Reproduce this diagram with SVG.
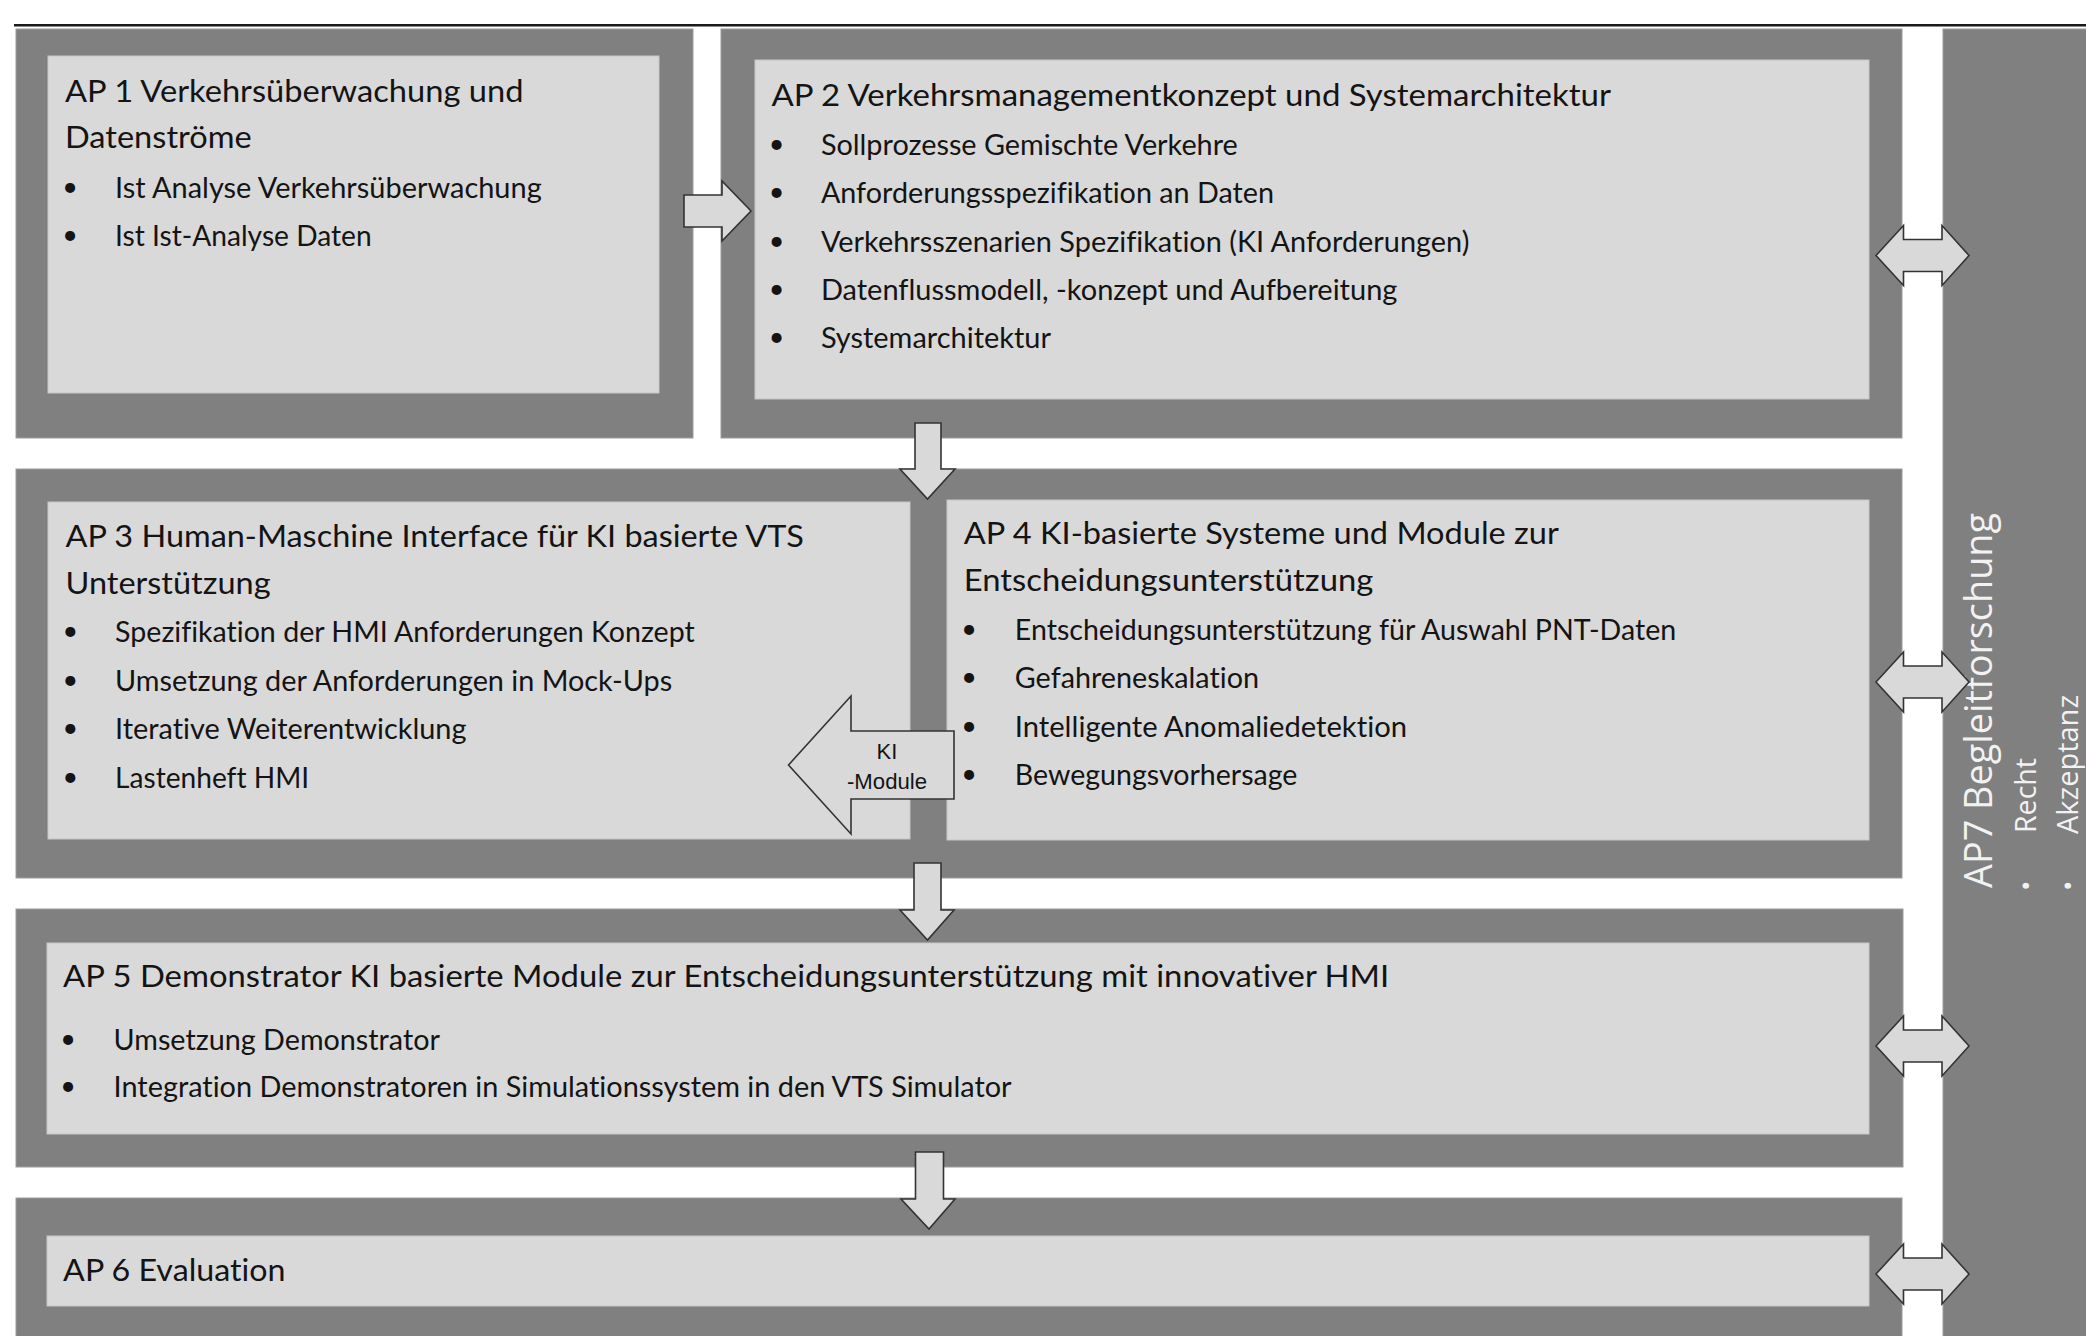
<svg xmlns="http://www.w3.org/2000/svg" xmlns:xlink="http://www.w3.org/1999/xlink" width="2086" height="1336" viewBox="0 0 2086 1336">
<defs>
<style>
.outer{fill:#808080;stroke:#9c9c9c;stroke-width:1}
.inner{fill:#d9d9d9;stroke:#c6c6c6;stroke-width:1}
.arrow{fill:#d9d9d9;stroke:#333333;stroke-width:1.6;stroke-linejoin:miter}
.t{font-family:Lato,"Open Sans",sans-serif;fill:#141414;font-variant-ligatures:none}
.title{font-size:31.5px}
.item{font-size:28px}
.dot{font-family:Lato,"Open Sans",sans-serif;fill:#141414;font-size:27px;text-anchor:middle}
.lbl{font-family:"Liberation Sans",Arial,sans-serif;font-size:22px;fill:#141414;text-anchor:middle}
.w{font-family:"Open Sans","Noto Sans",sans-serif;fill:#f2f2f2}
</style>
<path id="dbl" class="arrow" d="M1876,0 L1903.5,-30 L1903.5,-16 L1942,-16 L1942,-30 L1969,0 L1942,30 L1942,16 L1903.5,16 L1903.5,30 Z"/>
</defs>
<rect x="0" y="0" width="2086" height="1336" fill="#ffffff"/>
<line x1="14" y1="25.3" x2="2086" y2="25.3" stroke="#1a1a1a" stroke-width="2.5"/>

<g id="ap7">
<rect class="outer" x="1943" y="29" width="150" height="1320"/>
<text class="w" x="1992" y="888" font-size="38" textLength="375" lengthAdjust="spacingAndGlyphs" transform="rotate(-90 1992 888)">AP7 Begleitforschung</text>
<text class="w" x="2036" y="891" font-size="28" transform="rotate(-90 2036 891)">•</text>
<text class="w" x="2036" y="833" font-size="28.5" textLength="75" lengthAdjust="spacingAndGlyphs" transform="rotate(-90 2036 833)">Recht</text>
<text class="w" x="2078" y="891" font-size="28" transform="rotate(-90 2078 891)">•</text>
<text class="w" x="2078" y="834" font-size="28.5" textLength="139" lengthAdjust="spacingAndGlyphs" transform="rotate(-90 2078 834)">Akzeptanz</text>
</g>

<g id="ap1">
<rect class="outer" x="16" y="29" width="677" height="409"/>
<rect class="inner" x="48" y="56" width="611" height="337"/>
<text class="t title" x="65" y="101.7" textLength="458.5" lengthAdjust="spacingAndGlyphs">AP 1 Verkehrsüberwachung und</text>
<text class="t title" x="65" y="147.5" textLength="186.7" lengthAdjust="spacingAndGlyphs">Datenströme</text>
<text class="dot" x="70" y="195.5">•</text>
<text class="t item" x="115" y="197.5" textLength="426.7" lengthAdjust="spacingAndGlyphs">Ist Analyse Verkehrsüberwachung</text>
<text class="dot" x="70" y="243.5">•</text>
<text class="t item" x="115" y="245.5" textLength="256.7" lengthAdjust="spacingAndGlyphs">Ist Ist-Analyse Daten</text>
</g>

<g id="ap2">
<rect class="outer" x="721" y="29" width="1181" height="409"/>
<rect class="inner" x="755" y="60" width="1114" height="339"/>
<text class="t title" x="771.4" y="106" textLength="839.6" lengthAdjust="spacingAndGlyphs">AP 2 Verkehrsmanagementkonzept und Systemarchitektur</text>
<text class="dot" x="776.5" y="153">•</text>
<text class="t item" x="820.9" y="155" textLength="416.9" lengthAdjust="spacingAndGlyphs">Sollprozesse Gemischte Verkehre</text>
<text class="dot" x="776.5" y="201.3">•</text>
<text class="t item" x="820.9" y="203.3" textLength="453.1" lengthAdjust="spacingAndGlyphs">Anforderungsspezifikation an Daten</text>
<text class="dot" x="776.5" y="249.7">•</text>
<text class="t item" x="820.9" y="251.7" textLength="648.5" lengthAdjust="spacingAndGlyphs">Verkehrsszenarien Spezifikation (KI Anforderungen)</text>
<text class="dot" x="776.5" y="298">•</text>
<text class="t item" x="820.9" y="300" textLength="576.5" lengthAdjust="spacingAndGlyphs">Datenflussmodell, -konzept und Aufbereitung</text>
<text class="dot" x="776.5" y="346.3">•</text>
<text class="t item" x="820.9" y="348.3" textLength="230.1" lengthAdjust="spacingAndGlyphs">Systemarchitektur</text>
</g>

<g id="row2">
<rect class="outer" x="16" y="469" width="1886" height="409"/>
<g id="ap3">
<rect class="inner" x="48" y="502" width="862" height="337"/>
<text class="t title" x="65.5" y="546.7" textLength="738.3" lengthAdjust="spacingAndGlyphs">AP 3 Human-Maschine Interface für KI basierte VTS</text>
<text class="t title" x="65.5" y="594" textLength="205.1" lengthAdjust="spacingAndGlyphs">Unterstützung</text>
<text class="dot" x="70.4" y="640.3">•</text>
<text class="t item" x="115.1" y="642.3" textLength="579.7" lengthAdjust="spacingAndGlyphs">Spezifikation der HMI Anforderungen Konzept</text>
<text class="dot" x="70.4" y="688.7">•</text>
<text class="t item" x="115.1" y="690.7" textLength="557.1" lengthAdjust="spacingAndGlyphs">Umsetzung der Anforderungen in Mock-Ups</text>
<text class="dot" x="70.4" y="737.3">•</text>
<text class="t item" x="115.1" y="739.3" textLength="351.4" lengthAdjust="spacingAndGlyphs">Iterative Weiterentwicklung</text>
<text class="dot" x="70.4" y="786.3">•</text>
<text class="t item" x="115.1" y="788.3" textLength="194.1" lengthAdjust="spacingAndGlyphs">Lastenheft HMI</text>
</g>
<g id="ap4">
<rect class="inner" x="947" y="500" width="922" height="340"/>
<text class="t title" x="963.8" y="544" textLength="595" lengthAdjust="spacingAndGlyphs">AP 4 KI-basierte Systeme und Module zur</text>
<text class="t title" x="963.8" y="590.7" textLength="409.5" lengthAdjust="spacingAndGlyphs">Entscheidungsunterstützung</text>
<text class="dot" x="969" y="638">•</text>
<text class="t item" x="1014.8" y="640" textLength="661.4" lengthAdjust="spacingAndGlyphs">Entscheidungsunterstützung für Auswahl PNT-Daten</text>
<text class="dot" x="969" y="686.3">•</text>
<text class="t item" x="1014.8" y="688.3" textLength="244.2" lengthAdjust="spacingAndGlyphs">Gefahreneskalation</text>
<text class="dot" x="969" y="734.7">•</text>
<text class="t item" x="1014.8" y="736.7" textLength="392.2" lengthAdjust="spacingAndGlyphs">Intelligente Anomaliedetektion</text>
<text class="dot" x="969" y="783">•</text>
<text class="t item" x="1014.8" y="785" textLength="282.6" lengthAdjust="spacingAndGlyphs">Bewegungsvorhersage</text>
</g>
</g>

<g id="ap5">
<rect class="outer" x="16" y="909" width="1887" height="258"/>
<rect class="inner" x="47" y="943" width="1822" height="191"/>
<text class="t title" x="63.1" y="987.3" textLength="1326.1" lengthAdjust="spacingAndGlyphs">AP 5 Demonstrator KI basierte Module zur Entscheidungsunterstützung mit innovativer HMI</text>
<text class="dot" x="68" y="1048">•</text>
<text class="t item" x="113.6" y="1050" textLength="326.3" lengthAdjust="spacingAndGlyphs">Umsetzung Demonstrator</text>
<text class="dot" x="68" y="1095.3">•</text>
<text class="t item" x="113.6" y="1097.3" textLength="898" lengthAdjust="spacingAndGlyphs">Integration Demonstratoren in Simulationssystem in den VTS Simulator</text>
</g>

<g id="ap6">
<rect class="outer" x="16" y="1198" width="1886" height="150"/>
<rect class="inner" x="47" y="1236" width="1822" height="70"/>
<text class="t title" x="63.1" y="1280.7" textLength="222.4" lengthAdjust="spacingAndGlyphs">AP 6 Evaluation</text>
</g>

<g id="connectors">
<polygon class="arrow" points="684,195 722,195 722,181 751,211 722,241 722,227 684,227"/>
<polygon class="arrow" points="915,423 941,423 941,469 955,469 927.5,499 900,469 915,469"/>
<polygon class="arrow" points="914,863 941,863 941,910 954,910 927.5,940 900,910 914,910"/>
<polygon class="arrow" points="915.5,1152 943.5,1152 943.5,1199 955,1199 929,1229 901,1199 915.5,1199"/>
<g id="ki-module-arrow">
<polygon class="arrow" points="788.5,765 851,696 851,731 954,731 954,799 851,799 851,834"/>
<text class="lbl" x="887" y="759">KI</text>
<text class="lbl" x="887" y="789" textLength="80" lengthAdjust="spacingAndGlyphs">-Module</text>
</g>
<use xlink:href="#dbl" href="#dbl" transform="translate(0,255.5)"/>
<use xlink:href="#dbl" href="#dbl" transform="translate(0,682)"/>
<use xlink:href="#dbl" href="#dbl" transform="translate(0,1046)"/>
<use xlink:href="#dbl" href="#dbl" transform="translate(0,1274)"/>
</g>
</svg>
